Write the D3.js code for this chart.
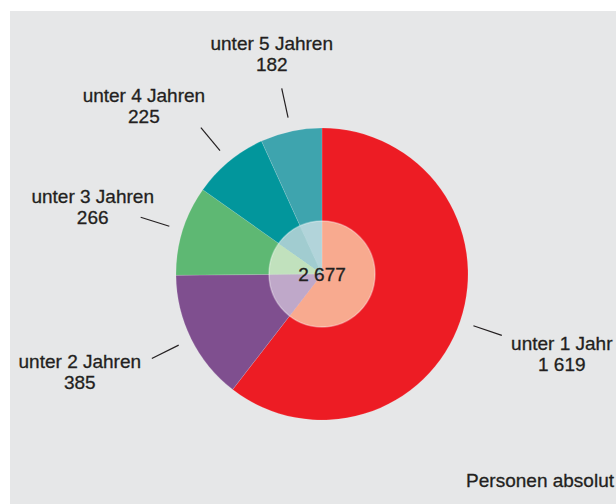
<!DOCTYPE html>
<html>
<head>
<meta charset="utf-8">
<script src="https://cdn.jsdelivr.net/npm/d3@7"></script>
<style>
  html, body { margin: 0; padding: 0; background: #fff; }
  svg { display: block; font-family: "Liberation Sans", Arial, sans-serif; }
</style>
</head>
<body>
<div id="chart"></div>
<script>
const categories = ['unter 1 Jahr', 'unter 2 Jahren', 'unter 3 Jahren', 'unter 4 Jahren', 'unter 5 Jahren'];
const values = [1619, 385, 266, 225, 182];
const colors = ['#ed1c24', '#7f4f8f', '#5eb873', '#02969c', '#3ea4ae'];
const innerColors = ['#f8aa8f', '#bfa8c9', '#c1e1bd', '#a1ccd0', '#b2d4da'];
const totalLabel = '2 677';
const unitLabel = 'Personen absolut';

// label offsets relative to the outer end of each leader line
const labelOffsets = [[60, 15], [-72, 10], [-48, -14], [-57, -26], [-10, -38]];

const width = 616, height = 504;
const cx = 322, cy = 274;
const radius = 146, innerR = 53;
const ink = '#231f20';

const fmt = v => d3.format(',')(v).replace(/,/g, ' ');

const svg = d3.select('#chart').append('svg')
  .attr('width', width)
  .attr('height', height);

svg.append('rect')
  .attr('x', 10).attr('y', 11)
  .attr('width', width - 10).attr('height', height - 11)
  .attr('fill', '#e6e7e8');

const g = svg.append('g').attr('transform', `translate(${cx},${cy})`);

const pie = d3.pie().sort(null).value(d => d.value);
const arcs = pie(categories.map((c, i) => ({ name: c, value: values[i], color: colors[i], tint: innerColors[i] })));

const arc = d3.arc().innerRadius(0).outerRadius(radius);
const innerArc = d3.arc().innerRadius(0).outerRadius(innerR);

g.selectAll('path.slice')
  .data(arcs)
  .enter().append('path')
  .attr('class', 'slice')
  .attr('d', arc)
  .attr('fill', d => d.data.color)
  .attr('stroke', 'rgba(255,255,255,0.25)')
  .attr('stroke-width', 0.5);

g.selectAll('path.inner')
  .data(arcs)
  .enter().append('path')
  .attr('class', 'inner')
  .attr('d', innerArc)
  .attr('fill', d => d.data.tint)
  .attr('stroke', 'rgba(255,255,255,0.3)')
  .attr('stroke-width', 0.5);

g.append('circle')
  .attr('r', innerR)
  .attr('fill', 'none')
  .attr('stroke', '#fff')
  .attr('stroke-opacity', 0.3)
  .attr('stroke-width', 1.5);

function label(sel) {
  return sel.attr('font-size', 19)
    .attr('fill', ink)
    .attr('stroke', ink)
    .attr('stroke-width', 0.3);
}

label(g.append('text'))
  .attr('text-anchor', 'middle')
  .attr('y', 7)
  .text(totalLabel);

const lineInner = d3.arc().innerRadius(160).outerRadius(160);
const lineOuter = d3.arc().innerRadius(190).outerRadius(190);
const pt = (a, d) => { const m = (d.startAngle + d.endAngle) / 2; return a.centroid({ startAngle: m, endAngle: m }); };

arcs.forEach((d, i) => {
  const p0 = pt(lineInner, d), p1 = pt(lineOuter, d);
  g.append('line')
    .attr('x1', p0[0]).attr('y1', p0[1])
    .attr('x2', p1[0]).attr('y2', p1[1])
    .attr('stroke', ink)
    .attr('stroke-width', 1.2);

  const [ox, oy] = labelOffsets[i];
  const t = label(g.append('text'))
    .attr('text-anchor', 'middle')
    .attr('x', p1[0] + ox)
    .attr('y', p1[1] + oy);
  t.append('tspan').attr('x', p1[0] + ox).text(d.data.name);
  t.append('tspan').attr('x', p1[0] + ox).attr('dy', 21).text(fmt(d.data.value));
});

label(svg.append('text'))
  .attr('x', 614).attr('y', 487)
  .attr('text-anchor', 'end')
  .text(unitLabel);
</script>
</body>
</html>
